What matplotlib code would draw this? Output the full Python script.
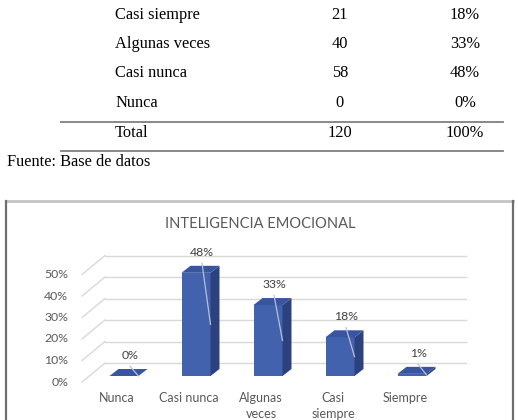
import matplotlib
matplotlib.use('Agg')
import matplotlib.pyplot as plt
from matplotlib.patches import Polygon
from matplotlib.lines import Line2D

# table data (upper part of the page)
tab_labels = ['Casi siempre', 'Algunas veces', 'Casi nunca', 'Nunca']
tab_counts = ['21', '40', '58', '0']
tab_pcts = ['18%', '33%', '48%', '0%']
total_count = '120'
total_pct = '100%'

# chart data
categories = ['Nunca', 'Casi nunca', 'Algunas\nveces', 'Casi\nsiempre', 'Siempre']
values = [0, 48, 33, 18, 1]
yticks = [0, 10, 20, 30, 40, 50]

W, H = 518, 420
fig = plt.figure(figsize=(W / 100, H / 100), dpi=100)

def fx(px):
    return px / W

def fy(py):
    return 1 - py / H

# ---- table as text ----
serif = 'Liberation Serif'
row_y = [15, 44, 73, 103]
for lab, c, p, y in zip(tab_labels, tab_counts, tab_pcts, row_y):
    fig.text(fx(115), fy(y), lab, family=serif, fontsize=11.8, va='center', ha='left')
    fig.text(fx(340), fy(y), c, family=serif, fontsize=11.8, va='center', ha='center')
    fig.text(fx(465), fy(y), p, family=serif, fontsize=11.8, va='center', ha='center')
fig.text(fx(115), fy(133), 'Total', family=serif, fontsize=11.8, va='center', ha='left')
fig.text(fx(340), fy(133), total_count, family=serif, fontsize=11.8, va='center', ha='center')
fig.text(fx(465), fy(133), total_pct, family=serif, fontsize=11.8, va='center', ha='center')
fig.text(fx(7), fy(162), 'Fuente: Base de datos', family=serif, fontsize=11.8, va='center', ha='left')
for y in [122, 151]:
    fig.add_artist(Line2D([fx(61), fx(503)], [fy(y), fy(y)], color='#7f7f7f', lw=1.3))

# chart border
fig.add_artist(Line2D([fx(6), fx(513)], [fy(201), fy(201)], color='#c4c4c4', lw=2))
fig.add_artist(Line2D([fx(6), fx(6)], [fy(201), 0], color='#6e6e6e', lw=1.6))
fig.add_artist(Line2D([fx(513), fx(513)], [fy(201), 0], color='#6e6e6e', lw=1.6))

fig.text(fx(260), fy(224), 'INTELIGENCIA EMOCIONAL', family='Lato', fontsize=10.5,
         color='#595959', ha='center', va='center')

# ---- chart axes: x = category index, y = percent (front plane) ----
ax = fig.add_axes([0, 0, 1, 1])
x0px, xstep = 117, 72.0
y0px, ystep = 382, 2.15
ax.set_xlim(-x0px / xstep, (W - x0px) / xstep)
ax.set_ylim((y0px - H) / ystep, y0px / ystep)
ax.axis('off')

BX, BY = 23 / xstep, 19 / ystep   # back wall offset
MX, MY = 7 / xstep, 6 / ystep     # bar plane offset
SX, SY = 9 / xstep, 7 / ystep     # bar depth
BW = 29 / xstep
gx0, gx1 = -0.486, 4.53
grid_c = '#d9d9d9'

for t in yticks:
    ax.plot([gx0 + BX, gx1 + BX], [t + BY, t + BY], color=grid_c, lw=1, zorder=1)
    ax.plot([gx0, gx0 + BX], [t, t + BY], color=grid_c, lw=1, zorder=1)
    ax.text(-0.68, t, f'{t}%', ha='right', va='center', fontsize=8.8,
            family='Lato', color='#595959')

front_c, side_c, top_c = '#4262ae', '#2c427f', '#3a55a0'
xs = list(range(len(values)))
ax.bar([x + MX for x in xs], values, width=BW, bottom=MY, color=front_c, zorder=3)
for x, v in zip(xs, values):
    xl = x + MX - BW / 2
    xr = x + MX + BW / 2
    side = [(xr, MY), (xr + SX, MY + SY), (xr + SX, MY + v + SY), (xr, MY + v)]
    top = [(xl, MY + v), (xl + SX, MY + v + SY), (xr + SX, MY + v + SY), (xr, MY + v)]
    ax.add_patch(Polygon(side, closed=True, color=side_c, zorder=3, lw=0))
    ax.add_patch(Polygon(top, closed=True, color=top_c, zorder=3, lw=0))
    lx = x + MX + 6 / xstep
    ly = v + MY + 9.5
    ax.text(lx, ly, f'{v}%', ha='center', va='center', fontsize=8.8,
            family='Lato', color='#404040', zorder=5)
    ax.plot([lx, xr], [ly - 5, MY + v / 2], color='#b8c0d6', lw=0.9, zorder=4)

for x, c in zip(xs, categories):
    ax.text(x, -4.8, c, ha='center', va='top', fontsize=9, family='Lato',
            color='#595959', linespacing=1.4)

fig.savefig('out.png', dpi=100)
